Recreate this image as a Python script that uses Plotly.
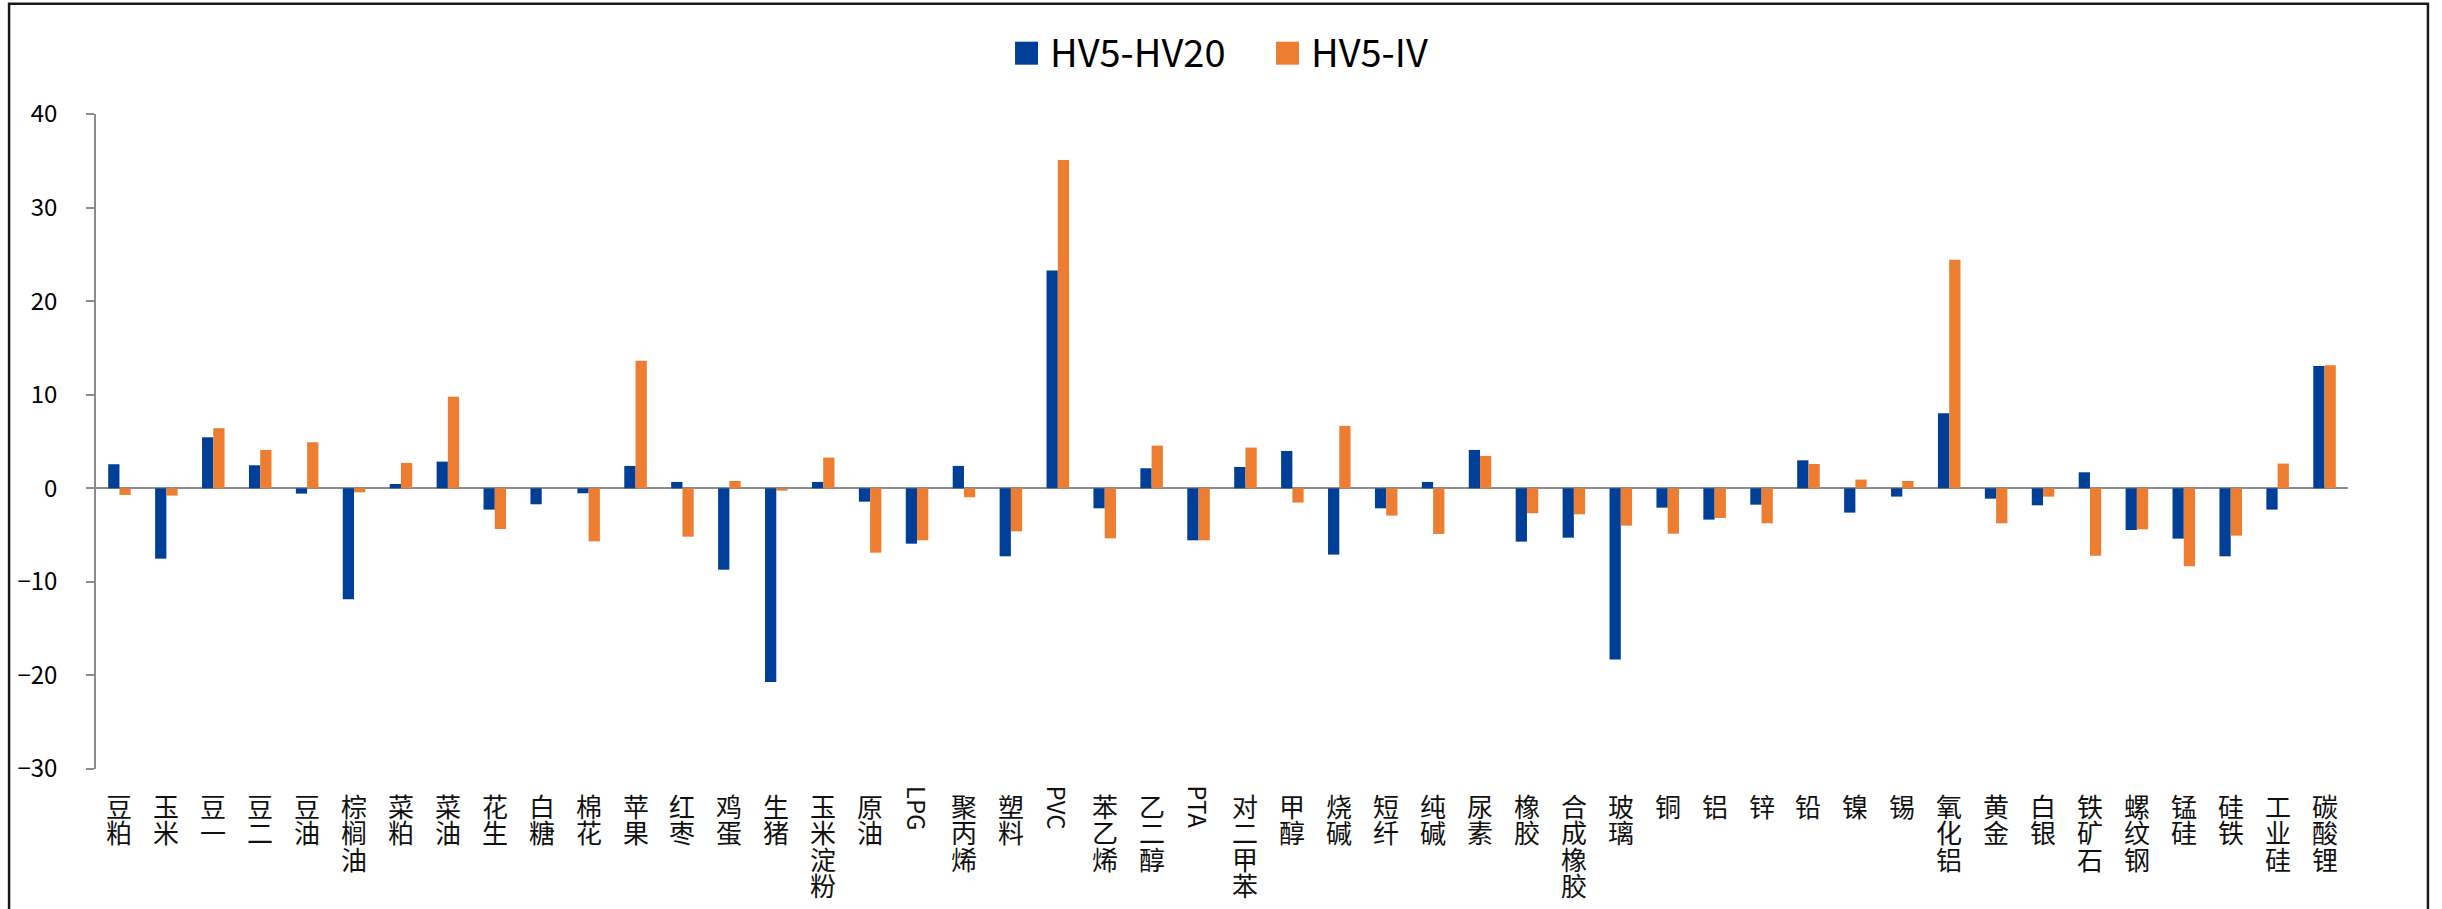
import plotly.graph_objects as go

categories = ["豆粕", "玉米", "豆一", "豆二", "豆油", "棕榈油", "菜粕", "菜油", "花生", "白糖",
              "棉花", "苹果", "红枣", "鸡蛋", "生猪", "玉米淀粉", "原油", "LPG", "聚丙烯", "塑料",
              "PVC", "苯乙烯", "乙二醇", "PTA", "对二甲苯", "甲醇", "烧碱", "短纤", "纯碱", "尿素",
              "橡胶", "合成橡胶", "玻璃", "铜", "铝", "锌", "铅", "镍", "锡", "氧化铝",
              "黄金", "白银", "铁矿石", "螺纹钢", "锰硅", "硅铁", "工业硅", "碳酸锂"]

hv5_hv20 = [2.57, -7.52, 5.45, 2.46, -0.57, -11.87, 0.46, 2.85, -2.28, -1.71,
            -0.53, 2.39, 0.68, -8.70, -20.71, 0.68, -1.43, -5.92, 2.39, -7.27,
            23.28, -2.14, 2.14, -5.56, 2.28, 3.99, -7.09, -2.14, 0.68, 4.10,
            -5.70, -5.28, -18.29, -2.07, -3.35, -1.75, 2.99, -2.60, -0.89, 8.02,
            -1.11, -1.82, 1.71, -4.46, -5.38, -7.27, -2.28, 13.08]

hv5_iv = [-0.71, -0.78, 6.42, 4.10, 4.92, -0.43, 2.71, 9.77, -4.35, 0.0,
          -5.67, 13.62, -5.17, 0.78, -0.25, 3.28, -6.88, -5.56, -0.96, -4.60,
          35.08, -5.35, 4.56, -5.56, 4.35, -1.53, 6.67, -2.92, -4.88, 3.46,
          -2.67, -2.78, -3.99, -4.85, -3.17, -3.74, 2.60, 0.93, 0.78, 24.42,
          -3.74, -0.89, -7.20, -4.39, -8.34, -5.06, 2.64, 13.16]

series_names = ["HV5-HV20", "HV5-IV"]
colors = ["#003f98", "#ed7d31"]
y_ticks = [-30, -20, -10, 0, 10, 20, 30, 40]

FONT = "Noto Sans CJK SC"
AXIS_GRAY = "#8c8c8c"

fig = go.Figure()
for name, vals, col in zip(series_names, [hv5_hv20, hv5_iv], colors):
    fig.add_trace(go.Bar(x=categories, y=vals, name=name, marker=dict(color=col, line=dict(width=0)),
                         showlegend=False))

annotations = []
for c in categories:
    if c.isascii():
        annotations.append(dict(x=c, xref="x", y=-0.022, yref="paper", text=c, textangle=90,
                                showarrow=False, xanchor="center", yanchor="top",
                                font=dict(family=FONT, size=24, color="#111")))
    else:
        txt = "<br>".join('<span style="font-size:26px">%s</span>' % ch for ch in c)
        annotations.append(dict(x=c, xref="x", y=-0.024, yref="paper", text=txt,
                                showarrow=False, xanchor="center", yanchor="top",
                                font=dict(family=FONT, size=20.3, color="#111")))

# manual legend (large swatches)
legend_x = [0.4081, 0.5240]
shapes = []
for i, (name, col) in enumerate(zip(series_names, colors)):
    x0 = legend_x[i]
    shapes.append(dict(type="rect", xref="paper", yref="paper", x0=x0, x1=x0 + 0.0102,
                       y0=1.0753, y1=1.1104, fillcolor=col, line=dict(width=0)))
    annotations.append(dict(x=x0 + 0.0146, xref="paper", y=1.097, yref="paper", text=name,
                            showarrow=False, xanchor="left", yanchor="middle",
                            font=dict(family=FONT, size=38, color="#000")))

# outer frame
shapes.append(dict(type="rect", xref="paper", yref="paper", x0=-0.0386, x1=1.0355,
                   y0=-0.30, y1=1.1685, line=dict(color="#1a1a1a", width=2.5),
                   fillcolor="rgba(0,0,0,0)", layer="above"))

fig.update_layout(
    width=2442, height=909,
    margin=dict(l=96, r=94, t=114, b=140),
    paper_bgcolor="white", plot_bgcolor="white",
    barmode="group", bargap=0.52, bargroupgap=0,
    font=dict(family=FONT, color="#000"),
    xaxis=dict(range=[-0.5, len(categories) - 0.5], showticklabels=False, showgrid=False,
               showline=False, ticks="", zeroline=False, fixedrange=True),
    yaxis=dict(range=[-30, 40], tickvals=y_ticks, showgrid=False, showline=True,
               linecolor=AXIS_GRAY, linewidth=1.5, ticks="outside", ticklen=8,
               tickcolor=AXIS_GRAY, tickwidth=1.5, zeroline=True, zerolinecolor=AXIS_GRAY,
               zerolinewidth=2, tickfont=dict(family=FONT, size=24, color="#000"),
               ticklabelstandoff=24),
    annotations=annotations,
    shapes=shapes,
)

fig.write_html("out.html", config={"displayModeBar": False},
               post_script="document.body.style.margin='0';document.body.style.padding='0';")
